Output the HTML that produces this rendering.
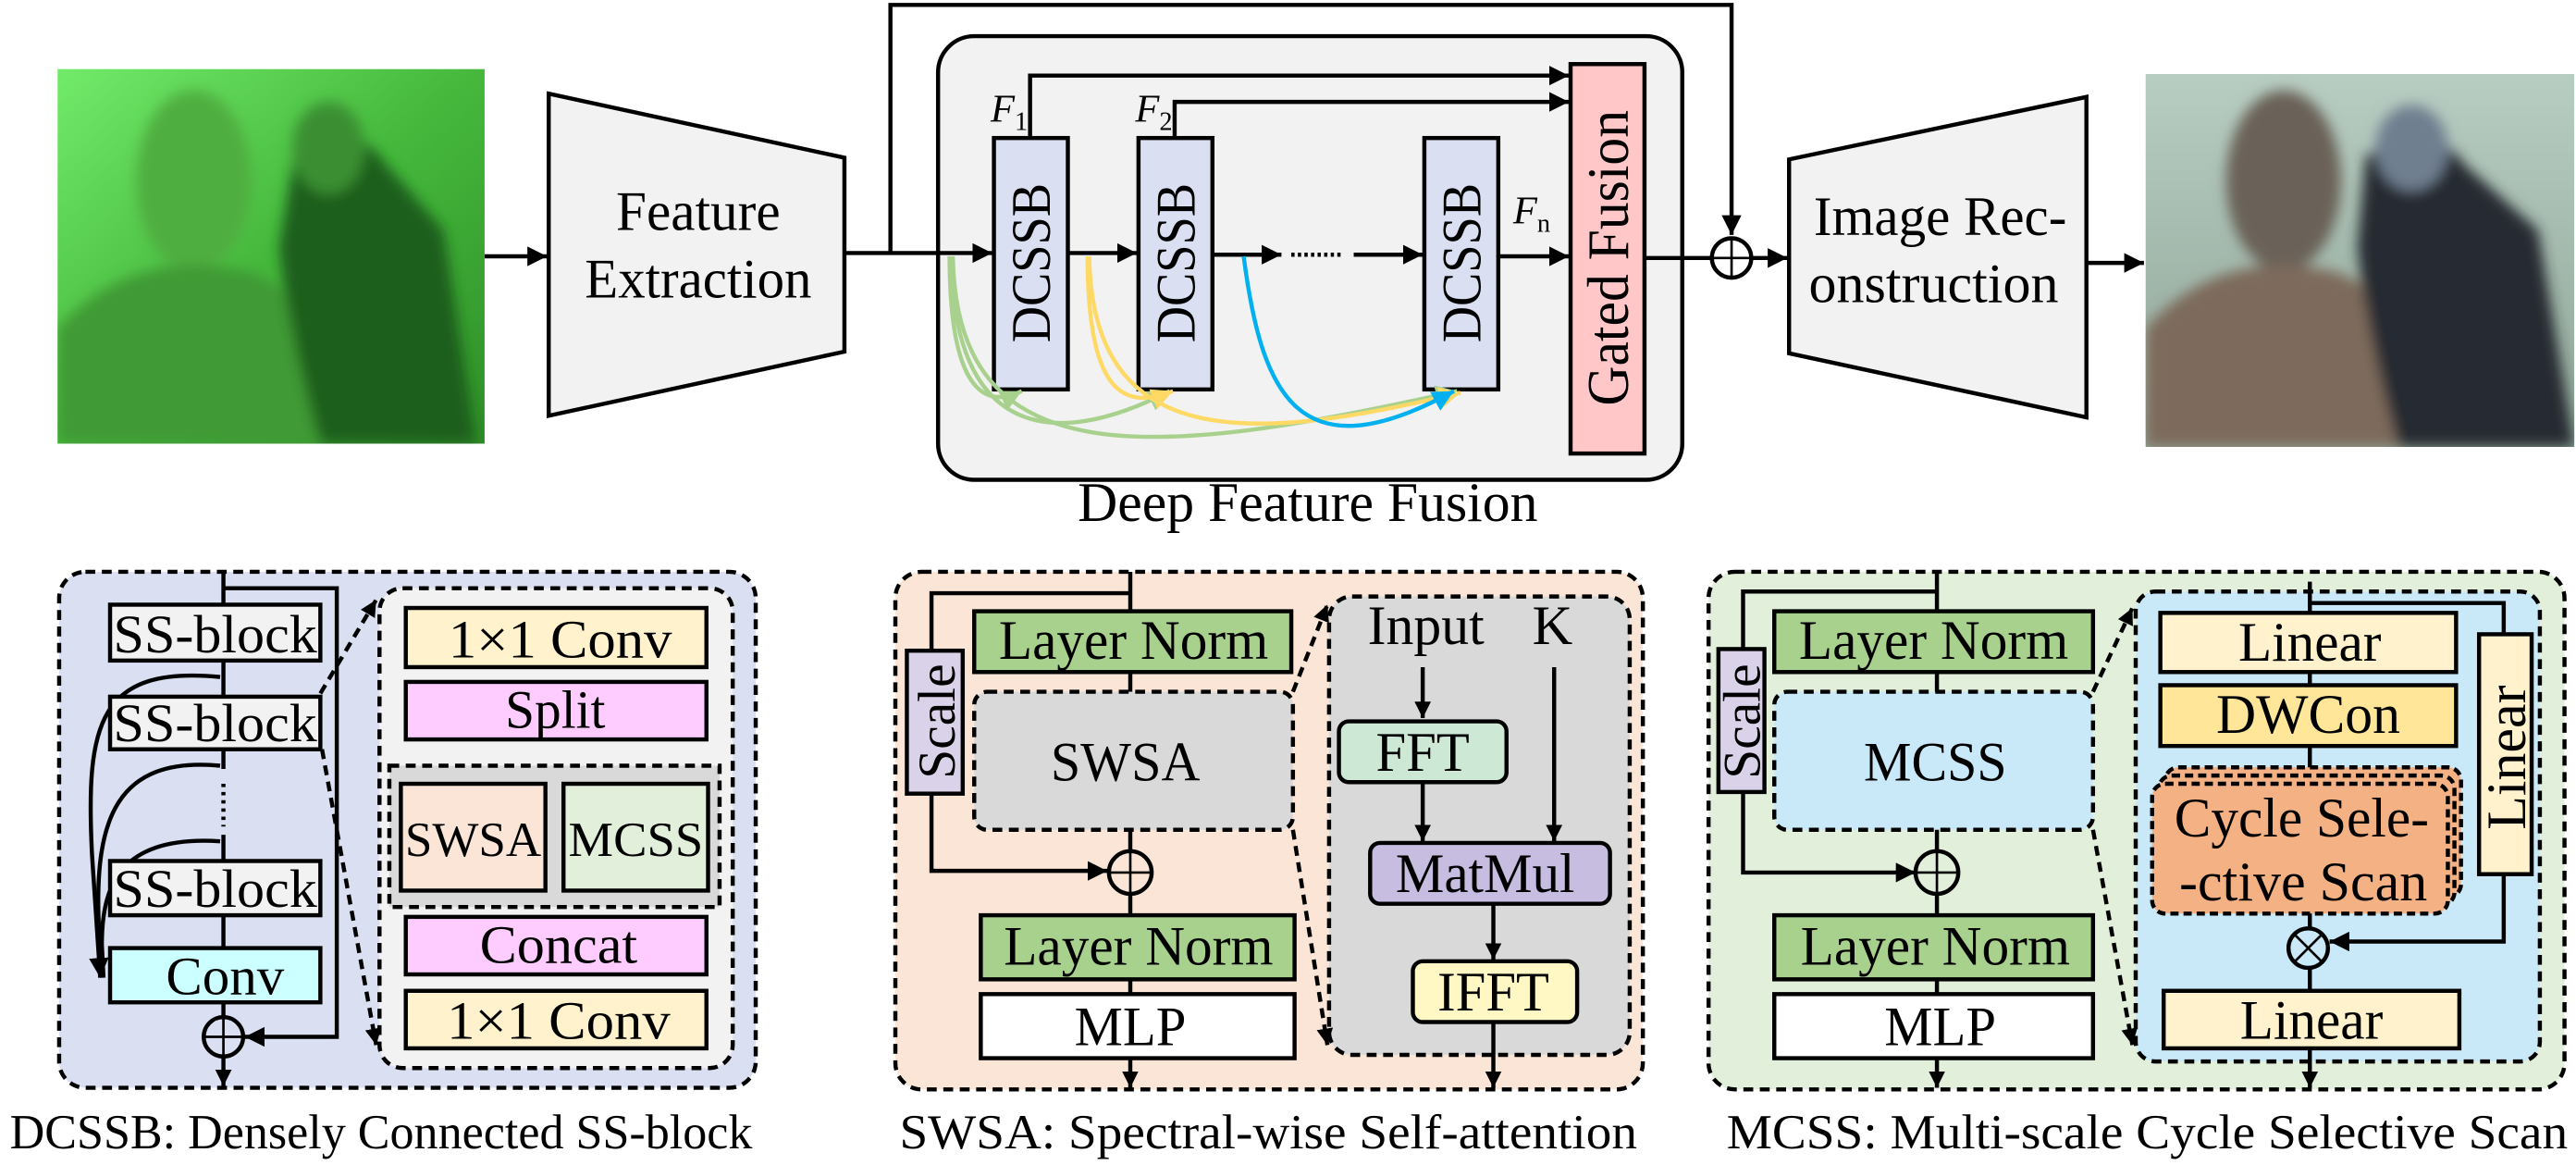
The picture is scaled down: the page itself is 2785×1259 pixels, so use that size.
<!DOCTYPE html>
<html><head><meta charset="utf-8"><style>html,body{margin:0;padding:0;background:#fff}svg{display:block}svg text{font-family:"Liberation Serif","Times New Roman",serif}</style></head>
<body>
<svg width="2785" height="1259" viewBox="0 0 1568 709" preserveAspectRatio="none" xmlns="http://www.w3.org/2000/svg">
<defs>
<marker id="ar" viewBox="0 0 10 10" refX="10" refY="5" markerWidth="12" markerHeight="12" markerUnits="userSpaceOnUse" orient="auto"><path d="M0,0L10,5L0,10z" fill="#000"/></marker>
<marker id="as" viewBox="0 0 10 10" refX="10" refY="5" markerWidth="10" markerHeight="10" markerUnits="userSpaceOnUse" orient="auto"><path d="M0,0L10,5L0,10z" fill="#000"/></marker>
<marker id="ag" viewBox="0 0 10 10" refX="10" refY="5" markerWidth="13" markerHeight="13" markerUnits="userSpaceOnUse" orient="auto"><path d="M0,0L10,5L0,10z" fill="#a9d18e"/></marker>
<marker id="ay" viewBox="0 0 10 10" refX="10" refY="5" markerWidth="13" markerHeight="13" markerUnits="userSpaceOnUse" orient="auto"><path d="M0,0L10,5L0,10z" fill="#ffd966"/></marker>
<marker id="ab" viewBox="0 0 10 10" refX="10" refY="5" markerWidth="13" markerHeight="13" markerUnits="userSpaceOnUse" orient="auto"><path d="M0,0L10,5L0,10z" fill="#00b0f0"/></marker>
<linearGradient id="gL" x1="0" y1="0" x2="1" y2="1"><stop offset="0" stop-color="#72ea6a"/><stop offset="0.5" stop-color="#45b83c"/><stop offset="1" stop-color="#2f8f28"/></linearGradient>
<linearGradient id="gR" x1="0" y1="0" x2="0" y2="1"><stop offset="0" stop-color="#b8cdc2"/><stop offset="1" stop-color="#8fa597"/></linearGradient>
<filter id="bl"><feGaussianBlur stdDeviation="4"/></filter>
<clipPath id="cL"><rect x="35" y="42" width="260" height="228"/></clipPath>
<clipPath id="cR"><rect x="1306" y="45" width="261" height="227"/></clipPath>
</defs>

<g clip-path="url(#cL)">
<rect x="35" y="42" width="260" height="228" fill="url(#gL)"/>
<g filter="url(#bl)">
<ellipse cx="118" cy="110" rx="35" ry="55" fill="#4fae40"/>
<path d="M35,200 Q80,150 150,165 Q200,180 215,270 L35,270Z" fill="#3f9a35"/>
<path d="M180,90 Q215,70 235,100 L270,140 L290,270 L195,270 Q175,200 170,150Z" fill="#1f5e1c"/>
<ellipse cx="200" cy="90" rx="22" ry="28" fill="#3b8f33"/>
</g>
</g>
<g clip-path="url(#cR)">
<rect x="1306" y="45" width="261" height="227" fill="url(#gR)"/>
<g filter="url(#bl)">
<ellipse cx="1390" cy="110" rx="35" ry="55" fill="#6b6258"/>
<path d="M1306,200 Q1350,150 1420,165 Q1470,180 1485,272 L1306,272Z" fill="#7d6a5c"/>
<path d="M1440,95 Q1480,70 1500,100 L1545,140 L1567,272 L1460,272 Q1440,200 1435,150Z" fill="#262a30"/>
<ellipse cx="1468" cy="90" rx="22" ry="26" fill="#6f7f90"/>
</g>
</g>

<g stroke="#000" stroke-width="2.5" fill="none">
<line x1="295" y1="156" x2="333" y2="156" marker-end="url(#ar)"/>
<polygon points="334,57 514,96 514,214 334,253" fill="#f2f2f2"/>
<polyline points="542,154 542,3 1054,3 1054,143" marker-end="url(#ar)"/>
<rect x="571" y="22" width="453" height="270" rx="22" fill="#f2f2f2"/>
<line x1="514" y1="154" x2="604" y2="154" marker-end="url(#ar)"/>
<rect x="605" y="84" width="45" height="153" fill="#dae0f2"/>
<rect x="693" y="84" width="45" height="153" fill="#dae0f2"/>
<rect x="867" y="84" width="45" height="153" fill="#dae0f2"/>
<rect x="956" y="39" width="45" height="237" fill="#ffc7c7"/>
<line x1="650" y1="154" x2="692" y2="154" marker-end="url(#ar)"/>
<line x1="738" y1="155" x2="780" y2="155" marker-end="url(#ar)"/>
<line x1="786" y1="155" x2="818" y2="155" stroke-dasharray="2 2"/>
<line x1="824" y1="155" x2="866" y2="155" marker-end="url(#ar)"/>
<line x1="912" y1="156" x2="955" y2="156" marker-end="url(#ar)"/>
<polyline points="627,84 627,46 955,46" marker-end="url(#ar)"/>
<polyline points="715,84 715,62 955,62" marker-end="url(#ar)"/>
<line x1="1001" y1="157" x2="1042" y2="157"/>
<circle cx="1054" cy="157" r="12" fill="#fff"/>
<line x1="1054" y1="146" x2="1054" y2="168" stroke-width="1.5"/><line x1="1043" y1="157" x2="1065" y2="157" stroke-width="1.5"/>
<line x1="1066" y1="157" x2="1088" y2="157" marker-end="url(#ar)"/>
<polygon points="1089,97 1270,59 1270,254 1089,215" fill="#f2f2f2"/>
<line x1="1270" y1="160" x2="1305" y2="160" marker-end="url(#ar)"/>
</g>
<g fill="none" stroke-width="2.5">
<path d="M580,156 C582,290 700,280 887,238" stroke="#a9d18e" marker-end="url(#ag)"/>
<path d="M579,156 C580,265 640,275 712,238" stroke="#a9d18e" marker-end="url(#ag)"/>
<path d="M578,156 C578,235 598,250 622,238" stroke="#a9d18e" marker-end="url(#ag)"/>
<path d="M663,156 C665,275 760,270 889,239" stroke="#ffd966" marker-end="url(#ay)"/>
<path d="M662,156 C662,232 680,252 714,238" stroke="#ffd966" marker-end="url(#ay)"/>
<path d="M757,156 C768,240 790,290 885,238" stroke="#00b0f0" marker-end="url(#ab)"/>
</g>
<g font-size="34" text-anchor="middle">
<text x="425" y="140" textLength="100" lengthAdjust="spacingAndGlyphs">Feature</text>
<text x="425" y="181" textLength="138" lengthAdjust="spacingAndGlyphs">Extraction</text>
<text x="1181" y="143" textLength="154" lengthAdjust="spacingAndGlyphs">Image Rec-</text>
<text x="1177" y="184" textLength="152" lengthAdjust="spacingAndGlyphs">onstruction</text>
<text x="796" y="317" textLength="280" lengthAdjust="spacingAndGlyphs">Deep Feature Fusion</text>
<text transform="translate(639,160) rotate(-90)" textLength="97" lengthAdjust="spacingAndGlyphs">DCSSB</text>
<text transform="translate(727,160) rotate(-90)" textLength="97" lengthAdjust="spacingAndGlyphs">DCSSB</text>
<text transform="translate(901,160) rotate(-90)" textLength="97" lengthAdjust="spacingAndGlyphs">DCSSB</text>
<text transform="translate(991,157) rotate(-90)" font-size="36" textLength="180" lengthAdjust="spacingAndGlyphs">Gated Fusion</text>
</g>
<g font-size="24" font-style="italic">
<text x="603" y="74">F<tspan font-size="16" font-style="normal" dy="5">1</tspan></text>
<text x="691" y="74">F<tspan font-size="16" font-style="normal" dy="5">2</tspan></text>
<text x="921" y="136">F<tspan font-size="16" font-style="normal" dy="5">n</tspan></text>
</g>

<!-- DCSSB panel -->
<g stroke="#000" stroke-width="2.5" fill="none">
<rect x="36" y="348" width="424" height="314" rx="16" fill="#dae0f2" stroke-dasharray="6 4"/>
<line x1="136" y1="348" x2="136" y2="468"/>
<line x1="136" y1="477" x2="136" y2="503" stroke-dasharray="2 3"/>
<line x1="136" y1="508" x2="136" y2="577"/>
<polyline points="136,358 205,358 205,631 149,631" marker-end="url(#ar)"/>
<path d="M134,412 C60,405 52,440 56,520 L61,595" marker-end="url(#ar)"/>
<path d="M134,466 C70,460 58,500 60,560 L62,595"/>
<path d="M134,512 C72,508 62,540 62,575 L63,595"/>
<rect x="67" y="368" width="128" height="34" fill="#f2f2f2"/>
<rect x="67" y="424" width="128" height="32" fill="#f2f2f2"/>
<rect x="67" y="524" width="128" height="33" fill="#f2f2f2"/>
<rect x="67" y="577" width="128" height="33" fill="#ccffff"/>
<line x1="136" y1="610" x2="136" y2="619"/>
<circle cx="136" cy="631" r="12"/>
<line x1="136" y1="620" x2="136" y2="642" stroke-width="1.5"/><line x1="125" y1="631" x2="147" y2="631" stroke-width="1.5"/>
<line x1="136" y1="643" x2="136" y2="661" marker-end="url(#as)"/>
<rect x="231" y="358" width="215" height="292" rx="14" fill="#f2f2f2" stroke-dasharray="6 4"/>
<rect x="247" y="370" width="183" height="36" fill="#fff2cc"/>
<rect x="247" y="415" width="183" height="35" fill="#ffccff"/>
<rect x="237" y="466" width="201" height="86" fill="#d9d9d9" stroke-dasharray="6 4"/>
<rect x="244" y="477" width="88" height="65" fill="#fbe5d6"/>
<rect x="343" y="477" width="88" height="65" fill="#e2efda"/>
<rect x="247" y="558" width="183" height="35" fill="#ffccff"/>
<rect x="247" y="603" width="183" height="35" fill="#fff2cc"/>
<line x1="195" y1="422" x2="229" y2="365" stroke-dasharray="6 4" marker-end="url(#as)"/>
<line x1="196" y1="456" x2="229" y2="636" stroke-dasharray="6 4" marker-end="url(#as)"/>
</g>
<g font-size="33" text-anchor="middle">
<text x="131" y="397" textLength="124" lengthAdjust="spacingAndGlyphs">SS-block</text>
<text x="131" y="451" textLength="124" lengthAdjust="spacingAndGlyphs">SS-block</text>
<text x="131" y="552" textLength="124" lengthAdjust="spacingAndGlyphs">SS-block</text>
<text x="137" y="605" textLength="72" lengthAdjust="spacingAndGlyphs">Conv</text>
<text x="341" y="400" textLength="136" lengthAdjust="spacingAndGlyphs">1×1 Conv</text>
<text x="338" y="443" textLength="61" lengthAdjust="spacingAndGlyphs">Split</text>
<text x="288" y="521" font-size="30" textLength="83" lengthAdjust="spacingAndGlyphs">SWSA</text>
<text x="387" y="521" font-size="30" textLength="82" lengthAdjust="spacingAndGlyphs">MCSS</text>
<text x="340" y="586" textLength="96" lengthAdjust="spacingAndGlyphs">Concat</text>
<text x="340" y="632" textLength="136" lengthAdjust="spacingAndGlyphs">1×1 Conv</text>
<text x="232" y="699" font-size="30" textLength="452" lengthAdjust="spacingAndGlyphs">DCSSB: Densely Connected SS-block</text>
</g>

<!-- SWSA panel -->
<g stroke="#000" stroke-width="2.5" fill="none">
<rect x="545" y="348" width="455" height="315" rx="16" fill="#fbe5d6" stroke-dasharray="6 4"/>
<line x1="688" y1="348" x2="688" y2="421"/>
<polyline points="688,361 567,361 567,396"/>
<rect x="552" y="396" width="34" height="87" fill="#d9d2e9"/>
<polyline points="567,483 567,530 674,530" marker-end="url(#ar)"/>
<rect x="593" y="372" width="193" height="37" fill="#a9d18e"/>
<rect x="593" y="421" width="194" height="84" rx="8" fill="#d9d9d9" stroke-dasharray="6 4"/>
<line x1="688" y1="505" x2="688" y2="518"/>
<circle cx="688" cy="531" r="13"/>
<line x1="688" y1="519" x2="688" y2="543" stroke-width="1.5"/><line x1="676" y1="531" x2="700" y2="531" stroke-width="1.5"/>
<line x1="688" y1="544" x2="688" y2="557"/>
<rect x="597" y="557" width="191" height="39" fill="#a9d18e"/>
<line x1="688" y1="596" x2="688" y2="605"/>
<rect x="597" y="605" width="191" height="39" fill="#fff"/>
<line x1="688" y1="644" x2="688" y2="662" marker-end="url(#as)"/>
<rect x="809" y="363" width="183" height="279" rx="14" fill="#d9d9d9" stroke-dasharray="6 4"/>
<line x1="866" y1="406" x2="866" y2="437" marker-end="url(#as)"/>
<rect x="815" y="439" width="102" height="37" rx="6" fill="#cde9d6"/>
<line x1="866" y1="476" x2="866" y2="512" marker-end="url(#as)"/>
<line x1="946" y1="406" x2="946" y2="512" marker-end="url(#as)"/>
<rect x="834" y="513" width="146" height="37" rx="6" fill="#c6bde0"/>
<line x1="909" y1="550" x2="909" y2="584" marker-end="url(#as)"/>
<rect x="860" y="585" width="100" height="37" rx="6" fill="#fff8c4"/>
<line x1="909" y1="622" x2="909" y2="662" marker-end="url(#as)"/>
<line x1="787" y1="421" x2="808" y2="368" stroke-dasharray="6 4" marker-end="url(#as)"/>
<line x1="787" y1="505" x2="808" y2="636" stroke-dasharray="6 4" marker-end="url(#as)"/>
</g>
<g font-size="34" text-anchor="middle">
<text transform="translate(581,439) rotate(-90)" font-size="32" textLength="70" lengthAdjust="spacingAndGlyphs">Scale</text>
<text x="690" y="401" textLength="164" lengthAdjust="spacingAndGlyphs">Layer Norm</text>
<text x="685" y="475" textLength="91" lengthAdjust="spacingAndGlyphs">SWSA</text>
<text x="693" y="587" textLength="164" lengthAdjust="spacingAndGlyphs">Layer Norm</text>
<text x="688" y="636" textLength="68" lengthAdjust="spacingAndGlyphs">MLP</text>
<text x="868" y="392" textLength="71" lengthAdjust="spacingAndGlyphs">Input</text>
<text x="945" y="392">K</text>
<text x="866" y="469" textLength="57" lengthAdjust="spacingAndGlyphs">FFT</text>
<text x="904" y="543" textLength="109" lengthAdjust="spacingAndGlyphs">MatMul</text>
<text x="909" y="615" textLength="68" lengthAdjust="spacingAndGlyphs">IFFT</text>
<text x="772" y="699" font-size="30" textLength="449" lengthAdjust="spacingAndGlyphs">SWSA: Spectral-wise Self-attention</text>
</g>

<!-- MCSS panel -->
<g stroke="#000" stroke-width="2.5" fill="none">
<rect x="1040" y="348" width="521" height="315" rx="16" fill="#e2efda" stroke-dasharray="6 4"/>
<line x1="1179" y1="348" x2="1179" y2="421"/>
<polyline points="1179,360 1061,360 1061,395"/>
<rect x="1046" y="395" width="28" height="87" fill="#d9d2e9"/>
<polyline points="1061,482 1061,531 1166,531" marker-end="url(#ar)"/>
<rect x="1080" y="372" width="194" height="37" fill="#a9d18e"/>
<rect x="1080" y="421" width="194" height="84" rx="8" fill="#c9e9f8" stroke-dasharray="6 4"/>
<line x1="1179" y1="505" x2="1179" y2="518"/>
<circle cx="1179" cy="531" r="13"/>
<line x1="1179" y1="519" x2="1179" y2="543" stroke-width="1.5"/><line x1="1167" y1="531" x2="1191" y2="531" stroke-width="1.5"/>
<line x1="1179" y1="544" x2="1179" y2="557"/>
<rect x="1080" y="557" width="194" height="39" fill="#a9d18e"/>
<line x1="1179" y1="596" x2="1179" y2="605"/>
<rect x="1080" y="605" width="194" height="39" fill="#fff"/>
<line x1="1179" y1="644" x2="1179" y2="662" marker-end="url(#as)"/>
<rect x="1300" y="360" width="246" height="286" rx="12" fill="#c9e9f8" stroke-dasharray="6 4"/>
<line x1="1406" y1="354" x2="1406" y2="565"/>
<polyline points="1406,367 1524,367 1524,386"/>
<rect x="1315" y="373" width="180" height="36" fill="#fff2cc"/>
<rect x="1315" y="417" width="180" height="37" fill="#ffe699"/>
<rect x="1318" y="467" width="180" height="79" rx="8" fill="#f4b183" stroke-dasharray="5 3"/>
<rect x="1314" y="472" width="180" height="79" rx="8" fill="#f4b183" stroke-dasharray="5 3"/>
<rect x="1310" y="477" width="180" height="79" rx="8" fill="#f4b183" stroke-dasharray="5 3"/>
<rect x="1509" y="386" width="32" height="146" fill="#fff2cc"/>
<polyline points="1524,532 1524,573 1418,573" marker-end="url(#ar)"/>
<circle cx="1405" cy="577" r="12" fill="#c9e9f8"/>
<line x1="1397" y1="569" x2="1413" y2="585" stroke-width="1.5"/><line x1="1413" y1="569" x2="1397" y2="585" stroke-width="1.5"/>
<line x1="1406" y1="589" x2="1406" y2="603"/>
<rect x="1317" y="603" width="180" height="35" fill="#fff2cc"/>
<line x1="1406" y1="638" x2="1406" y2="662" marker-end="url(#as)"/>
<line x1="1274" y1="421" x2="1298" y2="370" stroke-dasharray="6 4" marker-end="url(#as)"/>
<line x1="1274" y1="505" x2="1298" y2="636" stroke-dasharray="6 4" marker-end="url(#as)"/>
</g>
<g font-size="34" text-anchor="middle">
<text transform="translate(1071,439) rotate(-90)" font-size="32" textLength="70" lengthAdjust="spacingAndGlyphs">Scale</text>
<text x="1177" y="401" textLength="164" lengthAdjust="spacingAndGlyphs">Layer Norm</text>
<text x="1178" y="475" textLength="87" lengthAdjust="spacingAndGlyphs">MCSS</text>
<text x="1178" y="587" textLength="164" lengthAdjust="spacingAndGlyphs">Layer Norm</text>
<text x="1181" y="636" textLength="68" lengthAdjust="spacingAndGlyphs">MLP</text>
<text x="1406" y="402" textLength="87" lengthAdjust="spacingAndGlyphs">Linear</text>
<text x="1405" y="446" textLength="112" lengthAdjust="spacingAndGlyphs">DWCon</text>
<text x="1401" y="509" textLength="155" lengthAdjust="spacingAndGlyphs">Cycle Sele-</text>
<text x="1402" y="548" textLength="151" lengthAdjust="spacingAndGlyphs">-ctive Scan</text>
<text transform="translate(1537,461) rotate(-90)" textLength="88" lengthAdjust="spacingAndGlyphs">Linear</text>
<text x="1407" y="632" textLength="87" lengthAdjust="spacingAndGlyphs">Linear</text>
<text x="1307" y="699" font-size="30" textLength="512" lengthAdjust="spacingAndGlyphs">MCSS: Multi-scale Cycle Selective Scan</text>
</g>
</svg>
</body></html>
